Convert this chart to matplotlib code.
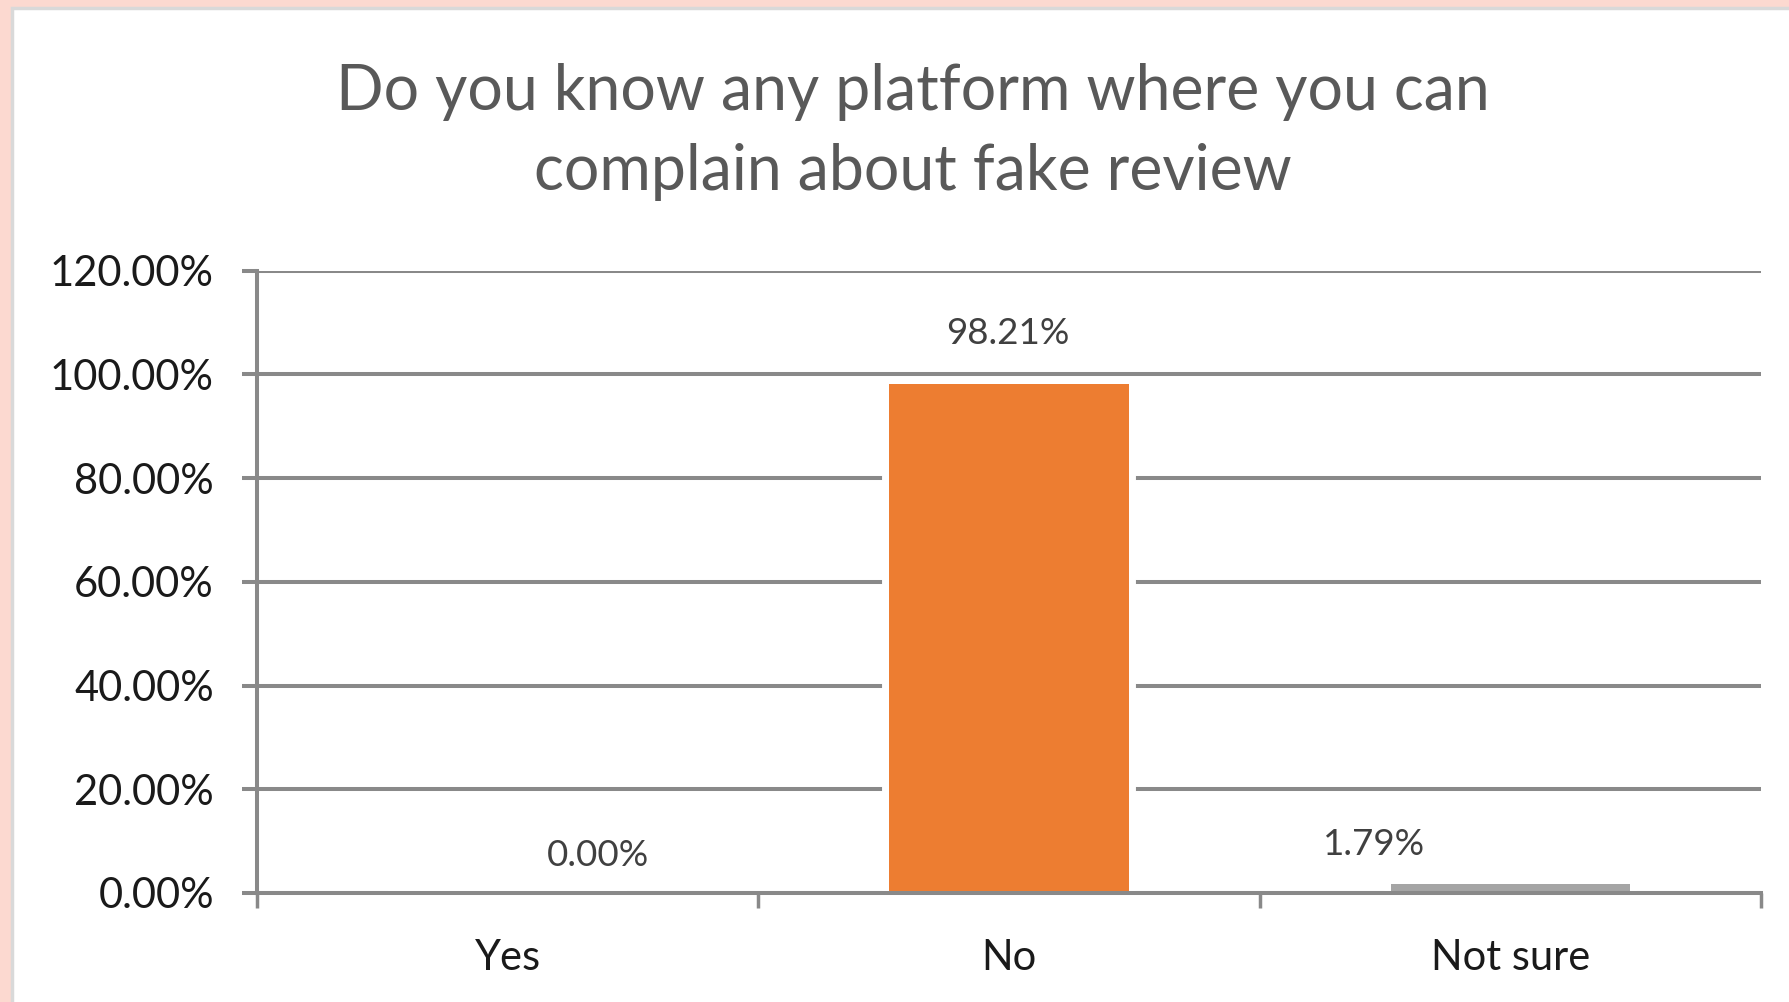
import matplotlib.pyplot as plt
import matplotlib.patheffects as pe
from matplotlib.patches import Rectangle
from matplotlib.ticker import FuncFormatter, MultipleLocator

# survey answers and their shares (percent)
answers = ['Yes', 'No', 'Not sure']
shares = [0.00, 98.21, 1.79]
bar_colors = ['#4472C4', '#ED7D31', '#A5A5A5']
title = 'Do you know any platform where you can\ncomplain about fake review'

# where the data labels sit, offset in points from the bar top
label_offsets = [(65, 27), (-1, 36), (-98, 28)]

plt.rcParams['font.family'] = ['Lato', 'DejaVu Sans']

fig = plt.figure(figsize=(17.9, 10.02), dpi=100)
fig.patch.set_facecolor('#FCD9D0')
# white card with thin grey edge inside the pink frame
fig.patches.append(Rectangle((12.5 / 1790, -0.02), 1.2, 1 - 8 / 1002 + 0.02,
                             transform=fig.transFigure, facecolor='white',
                             edgecolor='#D9D9D9', linewidth=2.5, zorder=-5))

ax = fig.add_axes([257 / 1790, 109 / 1002, (1761 - 257) / 1790, (893 - 270.6) / 1002])
ax.set_facecolor('none')

grid_col = '#898989'
x = range(len(answers))
bars = ax.bar(x, shares, width=0.478, color=bar_colors, linewidth=0, zorder=3)
for b in bars:
    b.set_path_effects([pe.withStroke(linewidth=10, foreground='white')])

ax.set_xlim(-0.5, 2.5)
ax.set_ylim(0, 120)
ax.yaxis.set_major_locator(MultipleLocator(20))
ax.yaxis.set_major_formatter(FuncFormatter(lambda v, p: f'{v:.2f}%'))
ax.grid(axis='y', color=grid_col, linewidth=2.9, zorder=1)
ax.set_axisbelow(True)
ax.axhline(0, color=grid_col, linewidth=2.9, zorder=5, clip_on=False)

for s in ['top', 'right', 'bottom']:
    ax.spines[s].set_visible(False)
ax.spines['left'].set_color(grid_col)
ax.spines['left'].set_linewidth(2.9)

ax.set_xticks([-0.5, 0.5, 1.5, 2.5])
ax.set_xticklabels([])
ax.set_xticks(list(x), minor=True)
ax.set_xticklabels(answers, minor=True)
ax.tick_params(axis='x', which='major', length=11, width=2.5, color=grid_col)
ax.tick_params(axis='x', which='minor', length=0, pad=33, labelsize=30, labelcolor='#1a1a1a')
ax.tick_params(axis='y', length=11, width=2.9, color=grid_col, pad=20,
               labelsize=30, labelcolor='#1a1a1a')

for i, v in enumerate(shares):
    ax.annotate(f'{v:.2f}%', xy=(i, v), xytext=label_offsets[i], textcoords='offset points',
                ha='center', va='center', fontsize=26.5, color='#404040', zorder=6)

fig.text(913 / 1790, 1 - 132 / 1002, title, ha='center', va='center', fontsize=45,
         color='#595959', linespacing=1.45)

fig.savefig('out.png', dpi=100, facecolor=fig.get_facecolor())
